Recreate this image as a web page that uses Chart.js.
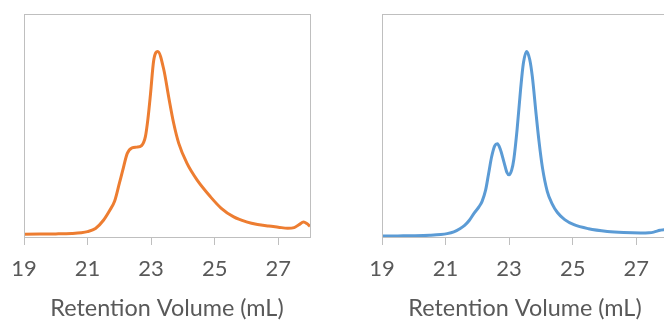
<!DOCTYPE html>
<html>
<head>
<meta charset="utf-8">
<script src="https://cdn.jsdelivr.net/npm/chart.js@4"></script>
<style>
  html, body { margin: 0; padding: 0; background: #fff; overflow: hidden; }
  body { width: 664px; height: 320px; position: relative; }
  .box { position: absolute; top: 0; width: 334px; height: 320px; }
</style>
</head>
<body>
<div class="box" style="left:0px"><canvas id="chartLeft"></canvas></div>
<div class="box" style="left:358px"><canvas id="chartRight"></canvas></div>
<script>
// x axis
const xTicks = [19, 21, 23, 25, 27];
const xMin = 19;
const xMax = 28;
const axisTitle = 'Retention Volume (mL)';

// left trace (orange)
const volLeft = [19.0, 19.5, 20.0, 20.5, 20.8, 21.0, 21.25, 21.5, 21.7, 21.85, 22.0, 22.1, 22.25, 22.4, 22.55, 22.7, 22.82, 22.9, 22.98, 23.08, 23.21, 23.4, 23.55, 23.71, 23.87, 24.13, 24.45, 24.87, 25.2, 25.6, 26.0, 26.35, 26.7, 27.0, 27.3, 27.5, 27.65, 27.8, 27.9, 28.0];
const sigLeft = [1.2, 1.3, 1.4, 1.6, 1.9, 2.4, 3.8, 7.5, 12, 16, 24, 29.5, 37.5, 40, 40.3, 41, 45, 53, 64, 79, 83.2, 75, 63, 51, 42, 33, 25.5, 18, 13, 9, 6.8, 5.6, 4.9, 4.4, 3.9, 4.2, 5.5, 6.7, 6.0, 4.8];

// right trace (blue)
const volRight = [19.0, 19.5, 20.0, 20.5, 20.85, 21.05, 21.26, 21.45, 21.6, 21.75, 21.9, 22.05, 22.15, 22.26, 22.35, 22.45, 22.55, 22.63, 22.72, 22.84, 22.93, 23.0, 23.08, 23.15, 23.25, 23.36, 23.45, 23.55, 23.65, 23.73, 23.85, 23.94, 24.05, 24.2, 24.35, 24.52, 24.75, 25.04, 25.5, 26.09, 26.6, 27.14, 27.4, 27.55, 27.75, 27.87, 28.0];
const sigRight = [0.4, 0.5, 0.6, 0.8, 1.1, 1.5, 2.3, 3.7, 5.2, 7.5, 10.7, 13.5, 16, 21, 28, 36, 41, 41.8, 39.5, 33.5, 29, 27.9, 30, 35, 48, 66, 78, 83.2, 79.5, 72, 55, 43, 31, 20.5, 15, 11, 7.8, 5.5, 3.7, 2.5, 2.0, 1.8, 1.9, 2.2, 3.0, 3.3, 3.0];

const textGrey = '#595959';
const lineGrey = '#BFBFBF';
const fontName = 'Lato';

// box round the plot area
const frame = {
    id: 'frame',
    afterDraw(chart) {
        const a = chart.chartArea;
        const c = chart.ctx;
        c.save();
        c.strokeStyle = lineGrey;
        c.lineWidth = 1;
        c.strokeRect(Math.round(a.left) + 0.5, Math.round(a.top) + 0.5, Math.round(a.right - a.left), Math.round(a.bottom - a.top));
        c.restore();
    }
};

function makeChart(id, vols, sigs, colour) {
    const pts = vols.map((v, i) => ({x: v, y: sigs[i]}));
    return new Chart(document.getElementById(id).getContext('2d'), {
        type: 'line',
        data: {
            datasets: [{
                data: pts,
                borderColor: colour,
                borderWidth: 3,
                pointRadius: 0,
                fill: false,
                cubicInterpolationMode: 'monotone'
            }]
        },
        options: {
            responsive: true,
            maintainAspectRatio: false,
            animation: false,
            events: [],
            layout: {
                padding: {left: 24, right: 24, top: 14, bottom: 0}
            },
            plugins: {
                legend: {display: false},
                tooltip: {enabled: false}
            },
            scales: {
                x: {
                    type: 'linear',
                    min: xMin,
                    max: xMax,
                    afterBuildTicks: (s) => { s.ticks = xTicks.map(v => ({value: v})); },
                    afterFit: (s) => { s.height = 83; },
                    border: {display: false},
                    grid: {
                        display: true,
                        drawOnChartArea: false,
                        drawTicks: true,
                        tickLength: 8,
                        color: lineGrey
                    },
                    ticks: {
                        color: textGrey,
                        padding: 11,
                        maxRotation: 0,
                        font: {family: fontName, size: 22}
                    },
                    title: {
                        display: true,
                        text: axisTitle,
                        color: textGrey,
                        padding: {top: 0, bottom: 0},
                        font: {family: fontName, size: 23.4, lineHeight: 1}
                    }
                },
                y: {
                    display: false,
                    min: 0,
                    max: 100
                }
            }
        },
        plugins: [frame]
    });
}

makeChart('chartLeft', volLeft, sigLeft, '#ED7D31');
makeChart('chartRight', volRight, sigRight, '#5B9BD5');
</script>
</body>
</html>
